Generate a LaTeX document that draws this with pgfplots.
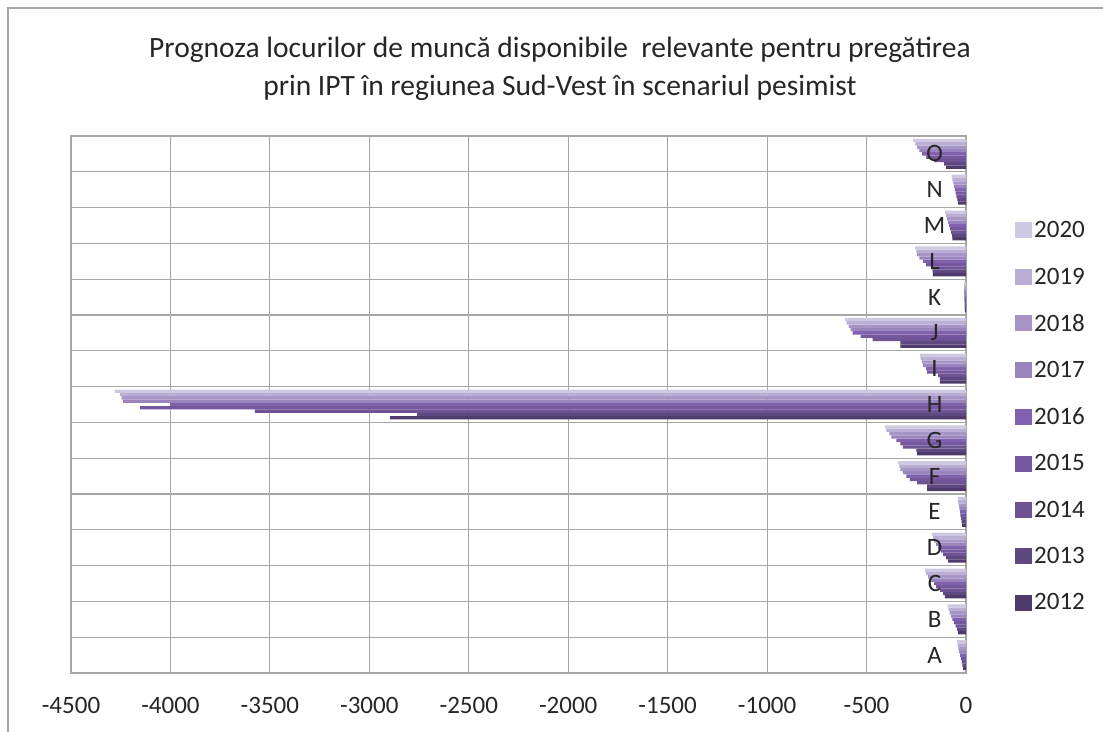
\documentclass[border=0pt]{standalone}
\usepackage{pgfplots}
\pgfplotsset{compat=1.18}
\usepackage{pgfplotstable}
\usepackage{fontspec}
\setmainfont{Carlito}
\definecolor{c2012}{HTML}{4E3B6B}
\definecolor{c2013}{HTML}{5E4880}
\definecolor{c2014}{HTML}{6E5395}
\definecolor{c2015}{HTML}{7557A0}
\definecolor{c2016}{HTML}{8160AD}
\definecolor{c2017}{HTML}{9A84BE}
\definecolor{c2018}{HTML}{A795C7}
\definecolor{c2019}{HTML}{BAAED5}
\definecolor{c2020}{HTML}{CFC8E2}
\definecolor{gridc}{HTML}{A6A6A6}
\pgfplotstableread{
cat a2012 a2013 a2014 a2015 a2016 a2017 a2018 a2019 a2020
0 -15 -18 -22 -26 -30 -34 -38 -42 -45
1 -40 -45 -52 -60 -68 -75 -82 -88 -92
2 -106 -115 -130 -150 -160 -175 -190 -200 -206
3 -90 -100 -115 -125 -140 -150 -160 -165 -171
4 -20 -22 -25 -28 -30 -33 -36 -39 -42
5 -196 -196 -246 -282 -300 -317 -330 -335 -342
6 -246 -250 -317 -330 -350 -375 -385 -400 -407
7 -2896 -2760 -3575 -4153 -4002 -4238 -4245 -4253 -4279
8 -131 -131 -140 -196 -200 -215 -222 -228 -231
9 -330 -330 -470 -530 -570 -580 -590 -600 -608
10 -6 -7 -7 -8 -8 -9 -9 -10 -10
11 -166 -168 -171 -200 -216 -235 -246 -250 -256
12 -68 -70 -75 -80 -85 -90 -95 -100 -105
13 -40 -44 -48 -52 -56 -60 -64 -68 -72
14 -100 -110 -160 -200 -221 -235 -246 -255 -266
}\data
\begin{document}
\begin{tikzpicture}
\begin{axis}[
  at={(0pt,0pt)}, anchor=south west,
  width=895pt, height=537pt, scale only axis,
  xbar, bar width=0.093,
  xmin=-4500, xmax=0, ymin=-0.5, ymax=14.5,
  xtick={-4500,-4000,...,0},
  ytick={-0.5,0.5,...,14.5}, yticklabels={},
  xmajorgrids, ymajorgrids,
  major grid style={gridc,line width=1.2pt},
  axis line style={gridc,line width=1.2pt},
  major tick length=0pt,
  tick style={draw=none},
  /pgf/number format/assume math mode=true,
  /pgf/number format/1000 sep={},
  ticklabel style={font=\fontsize{25}{30}\selectfont,text=black!85},
  xticklabel style={anchor=center, yshift=-32pt},
  reverse legend,
  legend style={at={(1.0547,0.4777)}, anchor=west, draw=none, fill=none,
    font=\fontsize{25}{30}\selectfont, text=black!85, row sep=24.6pt,
    inner sep=0pt},
  legend image code/.code={\fill[#1] (0pt,-8pt) rectangle (17pt,8pt);},
  legend cell align=left,
]
\addplot[fill=c2012,draw=none,bar shift=-0.372] table[x=a2012,y=cat]{\data};
\addplot[fill=c2013,draw=none,bar shift=-0.279] table[x=a2013,y=cat]{\data};
\addplot[fill=c2014,draw=none,bar shift=-0.186] table[x=a2014,y=cat]{\data};
\addplot[fill=c2015,draw=none,bar shift=-0.093] table[x=a2015,y=cat]{\data};
\addplot[fill=c2016,draw=none,bar shift=0] table[x=a2016,y=cat]{\data};
\addplot[fill=c2017,draw=none,bar shift=0.093] table[x=a2017,y=cat]{\data};
\addplot[fill=c2018,draw=none,bar shift=0.186] table[x=a2018,y=cat]{\data};
\addplot[fill=c2019,draw=none,bar shift=0.279] table[x=a2019,y=cat]{\data};
\addplot[fill=c2020,draw=none,bar shift=0.372] table[x=a2020,y=cat]{\data};
\legend{2012,2013,2014,2015,2016,2017,2018,2019,2020}
\foreach \l [count=\i from 0] in {A,B,C,D,E,F,G,H,I,J,K,L,M,N,O}{
  \edef\tmp{\noexpand\node[font=\noexpand\fontsize{25}{30}\noexpand\selectfont,text=black!85] at (axis cs:-158,\i) {\l};}
  \tmp
}
\end{axis}
\draw[gridc,line width=1.2pt] (-63pt,-60pt) -- (-63pt,665pt) -- (1035pt,665pt);
\node[align=center,font=\fontsize{29.5}{37.5}\selectfont,text=black!85] at (489pt,604pt) {Prognoza locurilor de muncă disponibile\ \ relevante pentru pregătirea\\prin IPT în regiunea Sud-Vest în scenariul pesimist};
\pgfresetboundingbox
\path[use as bounding box] (-71pt,-58pt) rectangle (1032pt,673pt);
\end{tikzpicture}
\end{document}
